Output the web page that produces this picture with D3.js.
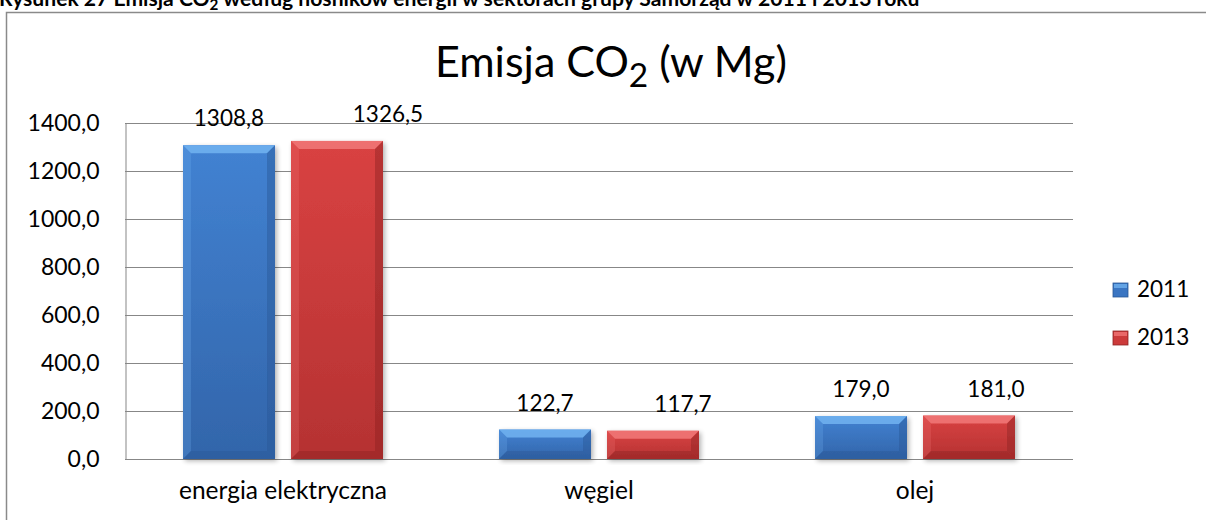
<!DOCTYPE html>
<html>
<head>
<meta charset="utf-8">
<script src="https://d3js.org/d3.v7.min.js"></script>
<style>
  html, body { margin: 0; padding: 0; background: #fff; overflow: hidden; }
  text { font-family: Lato, "Open Sans", sans-serif; fill: #000; }
</style>
</head>
<body>
<script>
// data
var categories = ["energia elektryczna", "węgiel", "olej"];
var series = ["2011", "2013"];
var values2011 = [1308.8, 122.7, 179.0];
var values2013 = [1326.5, 117.7, 181.0];
var yTicks = [0, 200, 400, 600, 800, 1000, 1200, 1400];

var width = 1206, height = 520;
var plot = {left: 125, right: 1073, top: 123.3, bottom: 459};

var colors = {
  "2011": {base: "#3a75c2", light: "#6fb0ee", dark: "#2a5896", top: "#4282d2", bottom: "#3265aa"},
  "2013": {base: "#cc3a3a", light: "#f07474", dark: "#8e2424", top: "#d94242", bottom: "#b53232"}
};

var data = categories.map(function (c, i) {
  return {cat: c, vals: [{s: "2011", v: values2011[i]}, {s: "2013", v: values2013[i]}]};
});

// red labels in the original sit right of their bars
var labelShift = [[0, 51], [0, 30], [0, 27]];

var svg = d3.select("body").append("svg")
  .attr("width", width)
  .attr("height", height);

var defs = svg.append("defs");
series.forEach(function (s) {
  var c = colors[s];
  var g = defs.append("linearGradient").attr("id", "body" + s)
    .attr("x1", 0).attr("y1", 0).attr("x2", 0).attr("y2", 1);
  g.append("stop").attr("offset", "0%").attr("stop-color", c.top);
  g.append("stop").attr("offset", "100%").attr("stop-color", c.bottom);
});
var shadow = defs.append("filter").attr("id", "shadow")
  .attr("x", "-20%").attr("y", "-20%").attr("width", "140%").attr("height", "140%");
shadow.append("feGaussianBlur").attr("in", "SourceAlpha").attr("stdDeviation", 2.5);
shadow.append("feOffset").attr("dx", 2).attr("dy", 2).attr("result", "b");
shadow.append("feComponentTransfer").append("feFuncA").attr("type", "linear").attr("slope", 0.3);
var merge = shadow.append("feMerge");
merge.append("feMergeNode");
merge.append("feMergeNode").attr("in", "SourceGraphic");

// outer frame (right and bottom edges lie outside the picture)
svg.append("path")
  .attr("d", "M6.5," + (height + 5) + "V12.5H" + (width + 5))
  .attr("fill", "none")
  .attr("stroke", "#8a8a8a")
  .attr("stroke-width", 1.5);

// header caption, cut off at the top like in the original
var header = svg.append("text")
  .attr("x", -1).attr("y", 6)
  .style("font-weight", "bold")
  .style("font-size", "18px");
header.append("tspan").text("Rysunek 27 Emisja CO");
header.append("tspan").attr("class", "sub").attr("dy", 4).style("font-size", "13px").text("2");
header.append("tspan").attr("dy", -4).text(" według nośników energii w sektorach grupy Samorząd w 2011 i 2013 roku");
var hw = header.node().getComputedTextLength();
header.style("font-size", (18 * 921 / hw) + "px");
header.select(".sub").style("font-size", (13 * 921 / hw) + "px");

// title
var title = svg.append("text")
  .attr("x", 435).attr("y", 76.7)
  .style("font-size", "36px");
title.append("tspan").text("Emisja CO");
title.append("tspan").attr("class", "sub").attr("dy", 10).style("font-size", "28px").text("2");
title.append("tspan").attr("dy", -10).text(" (w Mg)");
var tw = title.node().getComputedTextLength();
var k = 352 / tw;
title.style("font-size", (36 * k) + "px");
title.select(".sub").style("font-size", (28 * k) + "px");

var x0 = d3.scaleBand()
  .domain(categories)
  .range([plot.left, plot.right]);

var x1 = d3.scaleBand()
  .domain(series)
  .range([(x0.bandwidth() - 200) / 2, (x0.bandwidth() + 200) / 2])
  .paddingInner(0.148);

var y = d3.scaleLinear()
  .domain([0, 1400])
  .range([plot.bottom, plot.top]);

// gridlines
svg.append("g")
  .selectAll("line")
  .data(yTicks)
  .enter().append("line")
  .attr("x1", plot.left).attr("x2", plot.right)
  .attr("y1", function (d) { return Math.round(y(d)) + 0.5; })
  .attr("y2", function (d) { return Math.round(y(d)) + 0.5; })
  .attr("stroke", "#878787")
  .attr("stroke-width", 1);

// y axis
var yAxis = svg.append("g")
  .attr("transform", "translate(" + (plot.left + 0.5) + ",0)")
  .call(d3.axisLeft(y).tickValues(yTicks).tickSize(0).tickPadding(26)
    .tickFormat(function (d) { return d3.format(".1f")(d).replace(".", ","); }));
yAxis.select(".domain").attr("stroke", "#878787");
yAxis.selectAll("text").style("font-size", "23px").attr("fill", "#000")
  .attr("font-family", null);

// x axis labels
var xAxis = svg.append("g")
  .attr("transform", "translate(0," + plot.bottom + ")")
  .call(d3.axisBottom(x0).tickSize(0).tickPadding(23));
xAxis.select(".domain").remove();
xAxis.selectAll("text").style("font-size", "24.5px").attr("fill", "#000")
  .attr("font-family", null);

// bars with a bevelled look
var groups = svg.append("g").selectAll("g")
  .data(data)
  .enter().append("g")
  .attr("transform", function (d) { return "translate(" + x0(d.cat) + ",0)"; });

var bars = groups.selectAll("g.bar")
  .data(function (d) { return d.vals; })
  .enter().append("g")
  .attr("class", "bar")
  .attr("filter", "url(#shadow)");

bars.each(function (d) {
  var g = d3.select(this);
  var bx = x1(d.s), bw = x1.bandwidth();
  var by = y(d.v), bh = y(0) - y(d.v);
  var e = Math.min(8, bh / 3);
  var c = colors[d.s];
  g.append("rect")
    .attr("x", bx).attr("y", by).attr("width", bw).attr("height", bh)
    .attr("fill", "url(#body" + d.s + ")");
  // top bevel
  g.append("polygon")
    .attr("points", [[bx, by], [bx + bw, by], [bx + bw - e, by + e], [bx + e, by + e]].join(" "))
    .attr("fill", c.light).attr("opacity", 0.9);
  // left bevel
  g.append("polygon")
    .attr("points", [[bx, by], [bx + e, by + e], [bx + e, by + bh - e], [bx, by + bh]].join(" "))
    .attr("fill", c.light).attr("opacity", 0.25);
  // right bevel
  g.append("polygon")
    .attr("points", [[bx + bw, by], [bx + bw, by + bh], [bx + bw - e, by + bh - e], [bx + bw - e, by + e]].join(" "))
    .attr("fill", c.dark).attr("opacity", 0.45);
  // bottom bevel
  g.append("polygon")
    .attr("points", [[bx, by + bh], [bx + bw, by + bh], [bx + bw - e, by + bh - e], [bx + e, by + bh - e]].join(" "))
    .attr("fill", c.dark).attr("opacity", 0.45);
});

// value labels
groups.each(function (d, ci) {
  d3.select(this).selectAll("text.val")
    .data(d.vals)
    .enter().append("text")
    .attr("class", "val")
    .attr("x", function (v, si) { return x1(v.s) + x1.bandwidth() / 2 + labelShift[ci][si]; })
    .attr("y", function (v) { return y(v.v) - 19; })
    .attr("text-anchor", "middle")
    .style("font-size", "22.5px")
    .text(function (v) { return d3.format(".1f")(v.v).replace(".", ","); });
});

// legend
var legend = svg.append("g").selectAll("g")
  .data(series)
  .enter().append("g")
  .attr("transform", function (d, i) { return "translate(1113," + (283 + i * 48) + ")"; });

legend.append("rect")
  .attr("width", 15).attr("height", 14)
  .attr("fill", function (d) { return colors[d].base; })
  .attr("stroke", function (d) { return colors[d].dark; })
  .attr("stroke-width", 0.8);
legend.append("rect")
  .attr("x", 1).attr("y", 1).attr("width", 13).attr("height", 4)
  .attr("fill", function (d) { return colors[d].light; })
  .attr("opacity", 0.8);

legend.append("text")
  .attr("x", 24).attr("y", 14)
  .style("font-size", "22.5px")
  .text(function (d) { return d; });
</script>
</body>
</html>
